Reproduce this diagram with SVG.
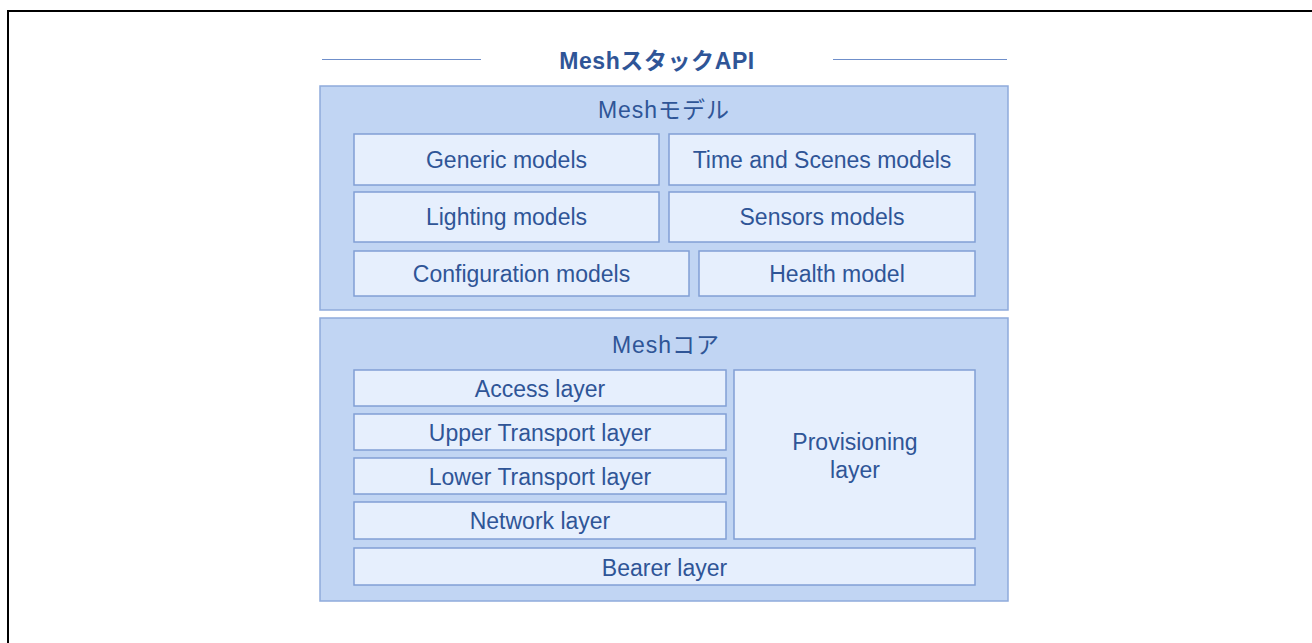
<svg xmlns="http://www.w3.org/2000/svg" width="1312" height="643" viewBox="0 0 1312 643">
<style>
.outer{fill:#c1d5f3;stroke:#8eaadb;stroke-width:1.5}
.inner{fill:#e6effd;stroke:#819fd5;stroke-width:1.5}
.t{font-family:"Liberation Sans","Noto Sans CJK JP",Arial,sans-serif;font-size:23px;fill:#2f5597;text-anchor:middle;dominant-baseline:central}
.title{font-weight:bold;letter-spacing:0.6px}
.hd{letter-spacing:1px}
.rule{stroke:#6f8fca;stroke-width:1;fill:none}
</style>
<rect width="1312" height="643" fill="#ffffff"/>
<path d="M8 643 V11 H1312" fill="none" stroke="#000000" stroke-width="2"/>
<g id="header">
<line class="rule" x1="322" y1="59.5" x2="481" y2="59.5"/>
<line class="rule" x1="833" y1="59.5" x2="1007" y2="59.5"/>
<text class="t title" x="657" y="61">MeshスタックAPI</text>
</g>
<g id="mesh-models">
<rect class="outer" x="320" y="86" width="688" height="224"/>
<text class="t hd" x="664" y="110">Meshモデル</text>
</g>
<g id="generic-models"><rect class="inner" x="354" y="134" width="305" height="51"/><text class="t" x="506.5" y="160">Generic models</text></g>
<g id="time-scenes-models"><rect class="inner" x="669" y="134" width="306" height="51"/><text class="t" x="822" y="160">Time and Scenes models</text></g>
<g id="lighting-models"><rect class="inner" x="354" y="192" width="305" height="50"/><text class="t" x="506.5" y="217">Lighting models</text></g>
<g id="sensors-models"><rect class="inner" x="669" y="192" width="306" height="50"/><text class="t" x="822" y="217">Sensors models</text></g>
<g id="configuration-models"><rect class="inner" x="354" y="251" width="335" height="45"/><text class="t" x="521.5" y="274">Configuration models</text></g>
<g id="health-model"><rect class="inner" x="699" y="251" width="276" height="45"/><text class="t" x="837" y="274">Health model</text></g>
<g id="mesh-core">
<rect class="outer" x="320" y="318" width="688" height="283"/>
<text class="t hd" x="666" y="345">Meshコア</text>
</g>
<g id="access-layer"><rect class="inner" x="354" y="370" width="372" height="36"/><text class="t" x="540" y="389">Access layer</text></g>
<g id="upper-transport-layer"><rect class="inner" x="354" y="414" width="372" height="36"/><text class="t" x="540" y="433">Upper Transport layer</text></g>
<g id="lower-transport-layer"><rect class="inner" x="354" y="458" width="372" height="36"/><text class="t" x="540" y="477">Lower Transport layer</text></g>
<g id="network-layer"><rect class="inner" x="354" y="502" width="372" height="37"/><text class="t" x="540" y="521">Network layer</text></g>
<g id="provisioning-layer"><rect class="inner" x="734" y="370" width="241" height="169"/><text class="t" x="855" y="442">Provisioning</text><text class="t" x="855" y="470">layer</text></g>
<g id="bearer-layer"><rect class="inner" x="354" y="548" width="621" height="37"/><text class="t" x="664.5" y="568">Bearer layer</text></g>
<g id="connectors"></g>
</svg>
